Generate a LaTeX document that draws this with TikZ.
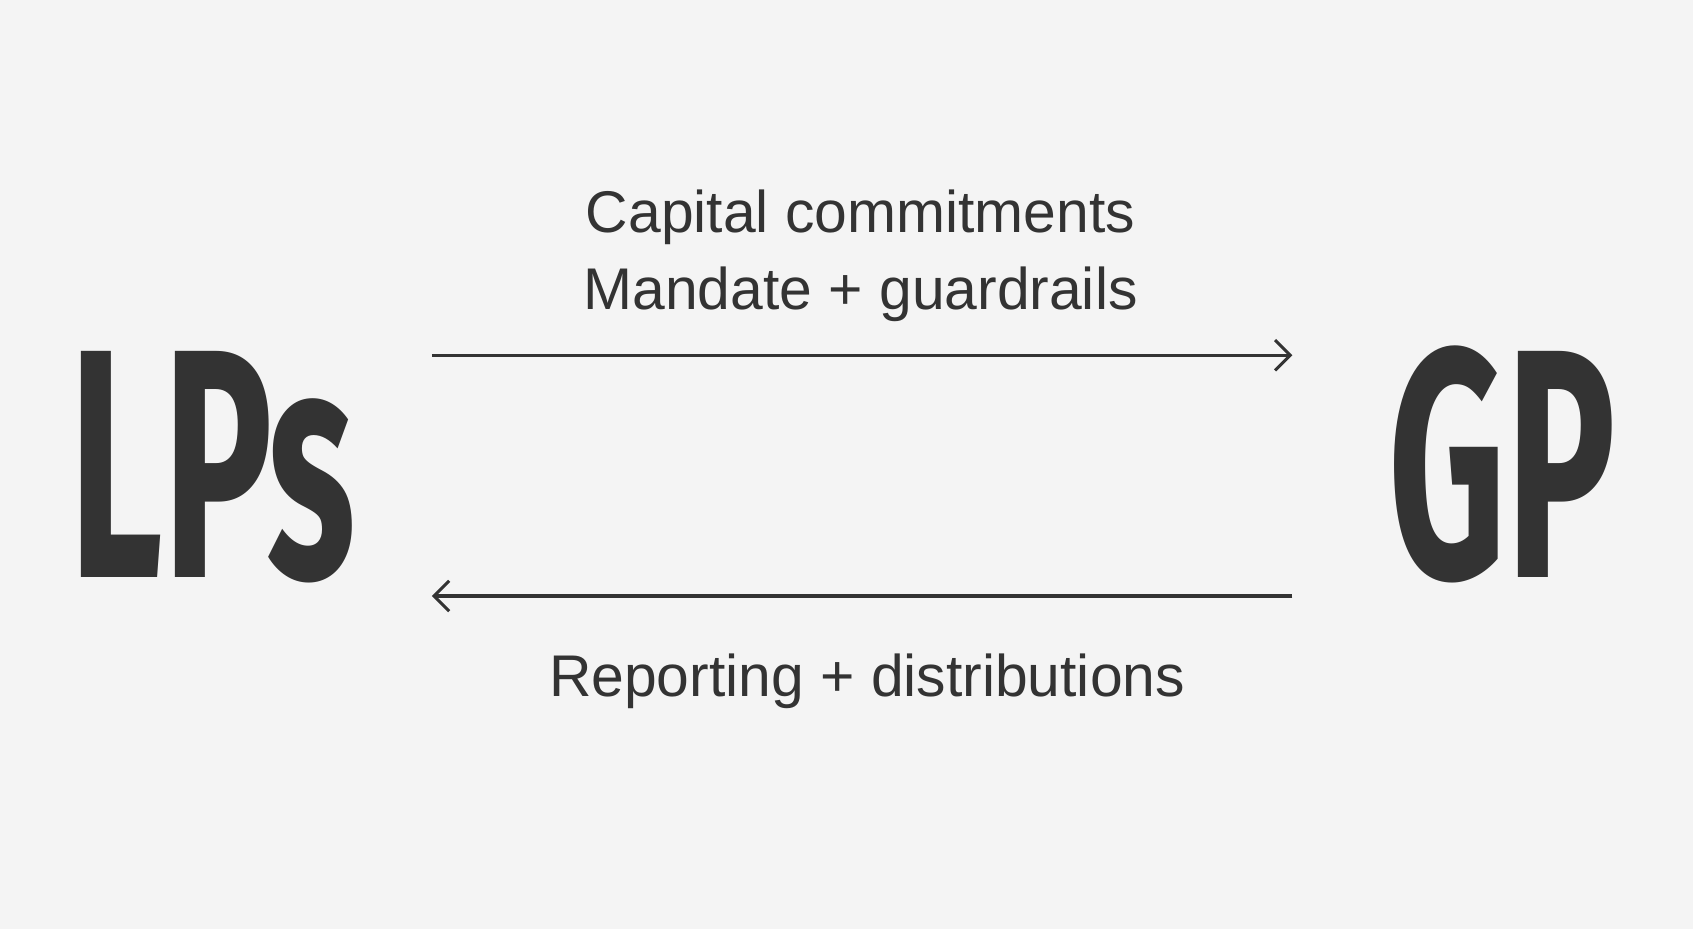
\documentclass[tikz,border=0pt]{standalone}
\usepackage{fontspec}
\setmainfont{Liberation Sans}
\newfontfamily\bigfont{Fira Sans}
\usetikzlibrary{positioning,arrows.meta}
\definecolor{ink}{HTML}{333333}
\definecolor{paper}{HTML}{F4F4F4}
\tikzset{
    party/.style={anchor=base, inner sep=0pt, text=ink, font=\bigfont\bfseries\fontsize{86}{86}\selectfont, xscale=0.56, transform shape},
    flowlabel/.style={anchor=base, inner sep=0pt, text=ink, font=\fontsize{15.5}{18}\selectfont},
    flow/.style={draw=ink, line width=0.8pt, -{Straight Barb[length=4pt,width=8pt]}}
}
\begin{document}
\begin{tikzpicture}
    % fond
    \fill[paper] (0,0) rectangle (15.68,8.60);
    \useasboundingbox (0,0) rectangle (15.68,8.60);

    % parties
    \node[party] (lps) at (1.97,3.25) {LPs};
    \node[party] (gp) at (13.91,3.25) {GP};

    % extremites des fleches
    \coordinate (topL) at (4.00,5.31);
    \coordinate (topR) at (11.97,5.31);
    \coordinate (botL) at (4.00,3.08);
    \coordinate (botR) at (11.97,3.08);

    % flux
    \draw[flow] (topL) -- (topR);
    \draw[flow] (botR) -- (botL);

    % libelles
    \node[flowlabel] (commit) at (7.97,6.45) {Capital commitments};
    \node[flowlabel] (mandate) at (7.97,5.73) {Mandate + guardrails};
    \node[flowlabel] (report) at (8.03,2.15) {Reporting + distributions};

\end{tikzpicture}
\end{document}
